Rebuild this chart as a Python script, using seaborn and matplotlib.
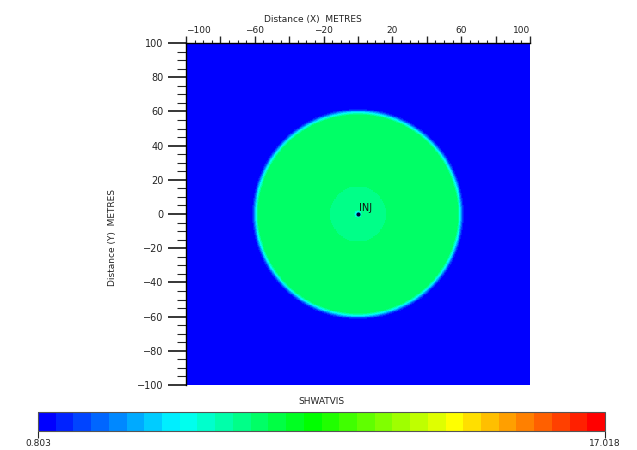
import numpy as np
import matplotlib
matplotlib.use("Agg")
import matplotlib.pyplot as plt
from matplotlib.colors import LinearSegmentedColormap
from matplotlib.ticker import FixedLocator
import seaborn as sns

sns.set_style("white")
plt.rcParams["font.family"] = ["DejaVu Sans"]

# radial profile of SHWATVIS around the injector (radius in metres -> value)
ring_radius = [0.0, 1.0, 2.5, 16.0, 16.3, 58.0, 59.0, 60.0, 61.0, 62.0]
ring_value = [3.2, 5.0, 6.63, 6.63, 7.14, 7.14, 5.6, 3.6, 1.8, 0.803]

vmin, vmax = 0.803, 17.018
extent = [-100, 100]
cell = 0.5

well_x = [0.0]
well_y = [0.0]
well_names = ["INJ"]

x_major = [-100, -80, -60, -40, -20, 0, 20, 40, 60, 80, 100]
x_labels = ["\u2212100", "", "\u221260", "", "\u221220", "", "20", "", "60", "", "100"]
y_major = [-100, -80, -60, -40, -20, 0, 20, 40, 60, 80, 100]
y_labels = ["\u2212100", "\u221280", "\u221260", "\u221240", "\u221220", "0", "20", "40", "60", "80", "100"]
minor_step = 5

# build the grid (rows from top y=100 down to y=-100)
xs = np.arange(extent[0] + cell / 2, extent[1], cell)
ys = xs[::-1]
X, Y = np.meshgrid(xs, ys)
field = np.interp(np.hypot(X, Y), ring_radius, ring_value)

# 32 level rainbow used by the simulator
cmap = LinearSegmentedColormap.from_list(
    "shw",
    [(0.0, "#0000ff"), (7.5 / 31, "#00ffff"), (15 / 31, "#00ff00"),
     (23 / 31, "#ffff00"), (1.0, "#ff0000")],
    N=32,
)

def xpos(v):
    return (np.asarray(v, dtype=float) - extent[0]) / cell

def ypos(v):
    return (extent[1] - np.asarray(v, dtype=float)) / cell

fig = plt.figure(figsize=(6.37, 4.5), dpi=100)
ax = fig.add_axes([186 / 637, 1 - 385 / 450, 344 / 637, 342 / 450])
cax = fig.add_axes([38 / 637, 1 - 431 / 450, 567 / 637, 19 / 450])

sns.heatmap(field, cmap=cmap, vmin=vmin, vmax=vmax, ax=ax, cbar_ax=cax,
            xticklabels=False, yticklabels=False,
            cbar_kws={"orientation": "horizontal", "ticks": [vmin, vmax]})

fs = 6.5
tc = "#222222"

# x axis on top
ax.xaxis.set_ticks_position("top")
ax.xaxis.set_label_position("top")
ax.xaxis.set_major_locator(FixedLocator(xpos(x_major)))
ax.set_xticklabels(x_labels, fontsize=fs, color=tc)
ax.xaxis.set_minor_locator(FixedLocator(xpos(np.arange(-100, 101, minor_step))))
ax.tick_params(axis="x", which="major", direction="out", length=5, width=1, pad=1, top=True, bottom=False)
ax.tick_params(axis="x", which="minor", direction="out", length=2.5, width=0.8, top=True, bottom=False)
lbls = ax.get_xticklabels()
lbls[0].set_horizontalalignment("left")
lbls[-1].set_horizontalalignment("right")
ax.set_xlabel("Distance (X)  METRES", fontsize=fs, color=tc)
ax.xaxis.set_label_coords(0.37, 1.06)

# y axis on left
ax.yaxis.set_major_locator(FixedLocator(ypos(y_major)))
ax.set_yticklabels(y_labels, fontsize=fs + 0.5, color=tc, rotation=0)
ax.yaxis.set_minor_locator(FixedLocator(ypos(np.arange(-100, 101, minor_step))))
ax.tick_params(axis="y", which="major", direction="out", length=13, width=1.3, pad=3, left=True)
ax.tick_params(axis="y", which="minor", direction="out", length=6.5, width=0.8, left=True)
ax.set_ylabel("Distance (Y)  METRES", fontsize=fs, color=tc)
ax.yaxis.set_label_coords(-0.2, 0.43)

for side in ["top", "left"]:
    ax.spines[side].set_visible(True)
    ax.spines[side].set_color("black")
    ax.spines[side].set_linewidth(1)
for side in ["bottom", "right"]:
    ax.spines[side].set_visible(False)

# injector well
ax.plot(xpos(well_x), ypos(well_y), "o", color="#000033", markersize=2)
for wx, wy, name in zip(well_x, well_y, well_names):
    ax.text(xpos(wx) + 1, ypos(wy) - 1, name, fontsize=7, color="#111111",
            ha="left", va="bottom")

# colorbar
cb = ax.collections[0].colorbar
cb.outline.set_edgecolor("#555555")
cb.outline.set_linewidth(0.8)
cax.set_xticklabels(["0.803", "17.018"], fontsize=fs, color=tc)
cax.tick_params(axis="x", direction="out", length=5, width=0.8, pad=1, bottom=True)
cax.set_title("SHWATVIS", fontsize=fs, color=tc, pad=6)

fig.savefig("out.png", dpi=100)
